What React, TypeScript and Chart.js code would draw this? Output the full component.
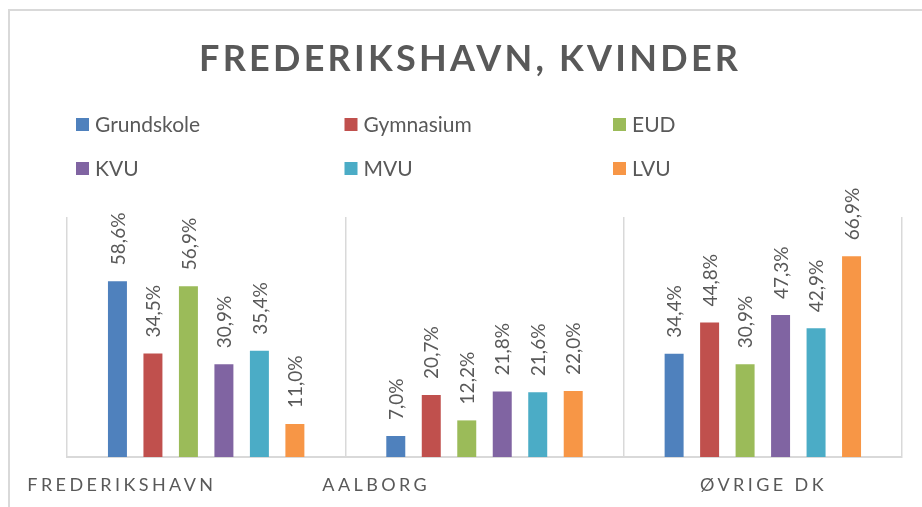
import React, { useEffect, useRef } from "react";
import { Chart, registerables } from "chart.js";

Chart.register(...registerables);

const TITLE = "FREDERIKSHAVN, KVINDER";
const CATEGORIES = ["FREDERIKSHAVN", "AALBORG", "ØVRIGE DK"];
const SERIES_NAMES = ["Grundskole", "Gymnasium", "EUD", "KVU", "MVU", "LVU"];
const GRUNDSKOLE = [58.6, 7.0, 34.4];
const GYMNASIUM = [34.5, 20.7, 44.8];
const EUD = [56.9, 12.2, 30.9];
const KVU = [30.9, 21.8, 47.3];
const MVU = [35.4, 21.6, 42.9];
const LVU = [11.0, 22.0, 66.9];
const SERIES_VALUES = [GRUNDSKOLE, GYMNASIUM, EUD, KVU, MVU, LVU];
const COLORS = ["#4F81BD", "#C0504D", "#9BBB59", "#8064A2", "#4BACC6", "#F79646"];

const TEXT_COLOR = "#595959";
const FONT = "Lato, 'Open Sans', sans-serif";

const W = 914;
const H = 499;

const fmt = (v: number) => v.toFixed(1).replace(".", ",") + "%";

const decorPlugin = {
  id: "decor",
  beforeDraw(chart: any) {
    const ctx = chart.ctx as CanvasRenderingContext2D;
    ctx.save();
    // outer frame
    ctx.fillStyle = "#d9d9d9";
    ctx.fillRect(0, 1, 2, H);
    ctx.fillRect(0, 1, W, 2);

    // title
    ctx.fillStyle = TEXT_COLOR;
    ctx.font = `bold 36px ${FONT}`;
    ctx.textBaseline = "alphabetic";
    ctx.textAlign = "left";
    (ctx as any).letterSpacing = "0px";
    const raw = ctx.measureText(TITLE).width;
    const target = 539;
    const ls = Math.max(0, (target - raw) / (TITLE.length - 1));
    (ctx as any).letterSpacing = `${ls}px`;
    ctx.fillText(TITLE, 460.5 - target / 2, 63);
    (ctx as any).letterSpacing = "0px";

    // legend
    ctx.font = `21px ${FONT}`;
    chart.data.datasets.forEach((ds: any, i: number) => {
      const col = i % 3;
      const row = Math.floor(i / 3);
      const x = 68 + col * 268.5;
      const y = 110 + row * 44;
      ctx.fillStyle = ds.backgroundColor;
      ctx.fillRect(x, y, 13, 13);
      ctx.fillStyle = TEXT_COLOR;
      ctx.fillText(ds.label, x + 19, y + 13.5);
    });
    ctx.restore();
  },
  afterDatasetsDraw(chart: any) {
    const ctx = chart.ctx as CanvasRenderingContext2D;
    ctx.save();
    ctx.fillStyle = TEXT_COLOR;
    ctx.font = `19px ${FONT}`;
    ctx.textAlign = "left";
    ctx.textBaseline = "middle";
    chart.data.datasets.forEach((ds: any, di: number) => {
      const meta = chart.getDatasetMeta(di);
      meta.data.forEach((el: any, i: number) => {
        ctx.save();
        ctx.translate(el.x + 1, el.y - 16);
        ctx.rotate(-Math.PI / 2);
        ctx.fillText(fmt(ds.data[i]), 0, 0);
        ctx.restore();
      });
    });

    // category labels
    const xs = chart.scales.x;
    const shifts = [-86, -110, -1];
    const spacing = 3.4;
    ctx.font = `18px ${FONT}`;
    (ctx as any).letterSpacing = `${spacing}px`;
    ctx.textBaseline = "alphabetic";
    CATEGORIES.forEach((c, i) => {
      const w = ctx.measureText(c).width - spacing;
      const cx = xs.getPixelForValue(i) + shifts[i];
      ctx.fillText(c, cx - w / 2, 483);
    });
    (ctx as any).letterSpacing = "0px";
    ctx.restore();
  },
};

export default function App() {
  const ref = useRef<HTMLCanvasElement | null>(null);
  useEffect(() => {
    if (!ref.current) return;
    const chart = new Chart(ref.current, {
      type: "bar",
      data: {
        labels: CATEGORIES,
        datasets: SERIES_NAMES.map((name, i) => ({
          label: name,
          data: SERIES_VALUES[i],
          backgroundColor: COLORS[i],
          borderWidth: 0,
          barPercentage: 0.535,
          categoryPercentage: 0.765,
        })),
      },
      options: {
        responsive: false,
        animation: false,
        layout: { padding: { left: 59, right: 20, top: 209, bottom: 50 } },
        plugins: {
          legend: { display: false },
          title: { display: false },
          tooltip: { enabled: false },
        },
        scales: {
          x: {
            grid: {
              offset: true,
              color: "#d9d9d9",
              lineWidth: 1.5,
              drawTicks: false,
            },
            border: { display: true, color: "#d9d9d9", width: 2 },
            ticks: { display: false },
          },
          y: {
            display: false,
            min: 0,
            max: 80,
          },
        },
      },
      plugins: [decorPlugin],
    });
    return () => chart.destroy();
  }, []);
  return (
    <div style={{ position: "fixed", left: 8, top: 8, width: W, height: H, background: "#fff" }}>
      <canvas ref={ref} width={W} height={H} style={{ display: "block" }} />
    </div>
  );
}
